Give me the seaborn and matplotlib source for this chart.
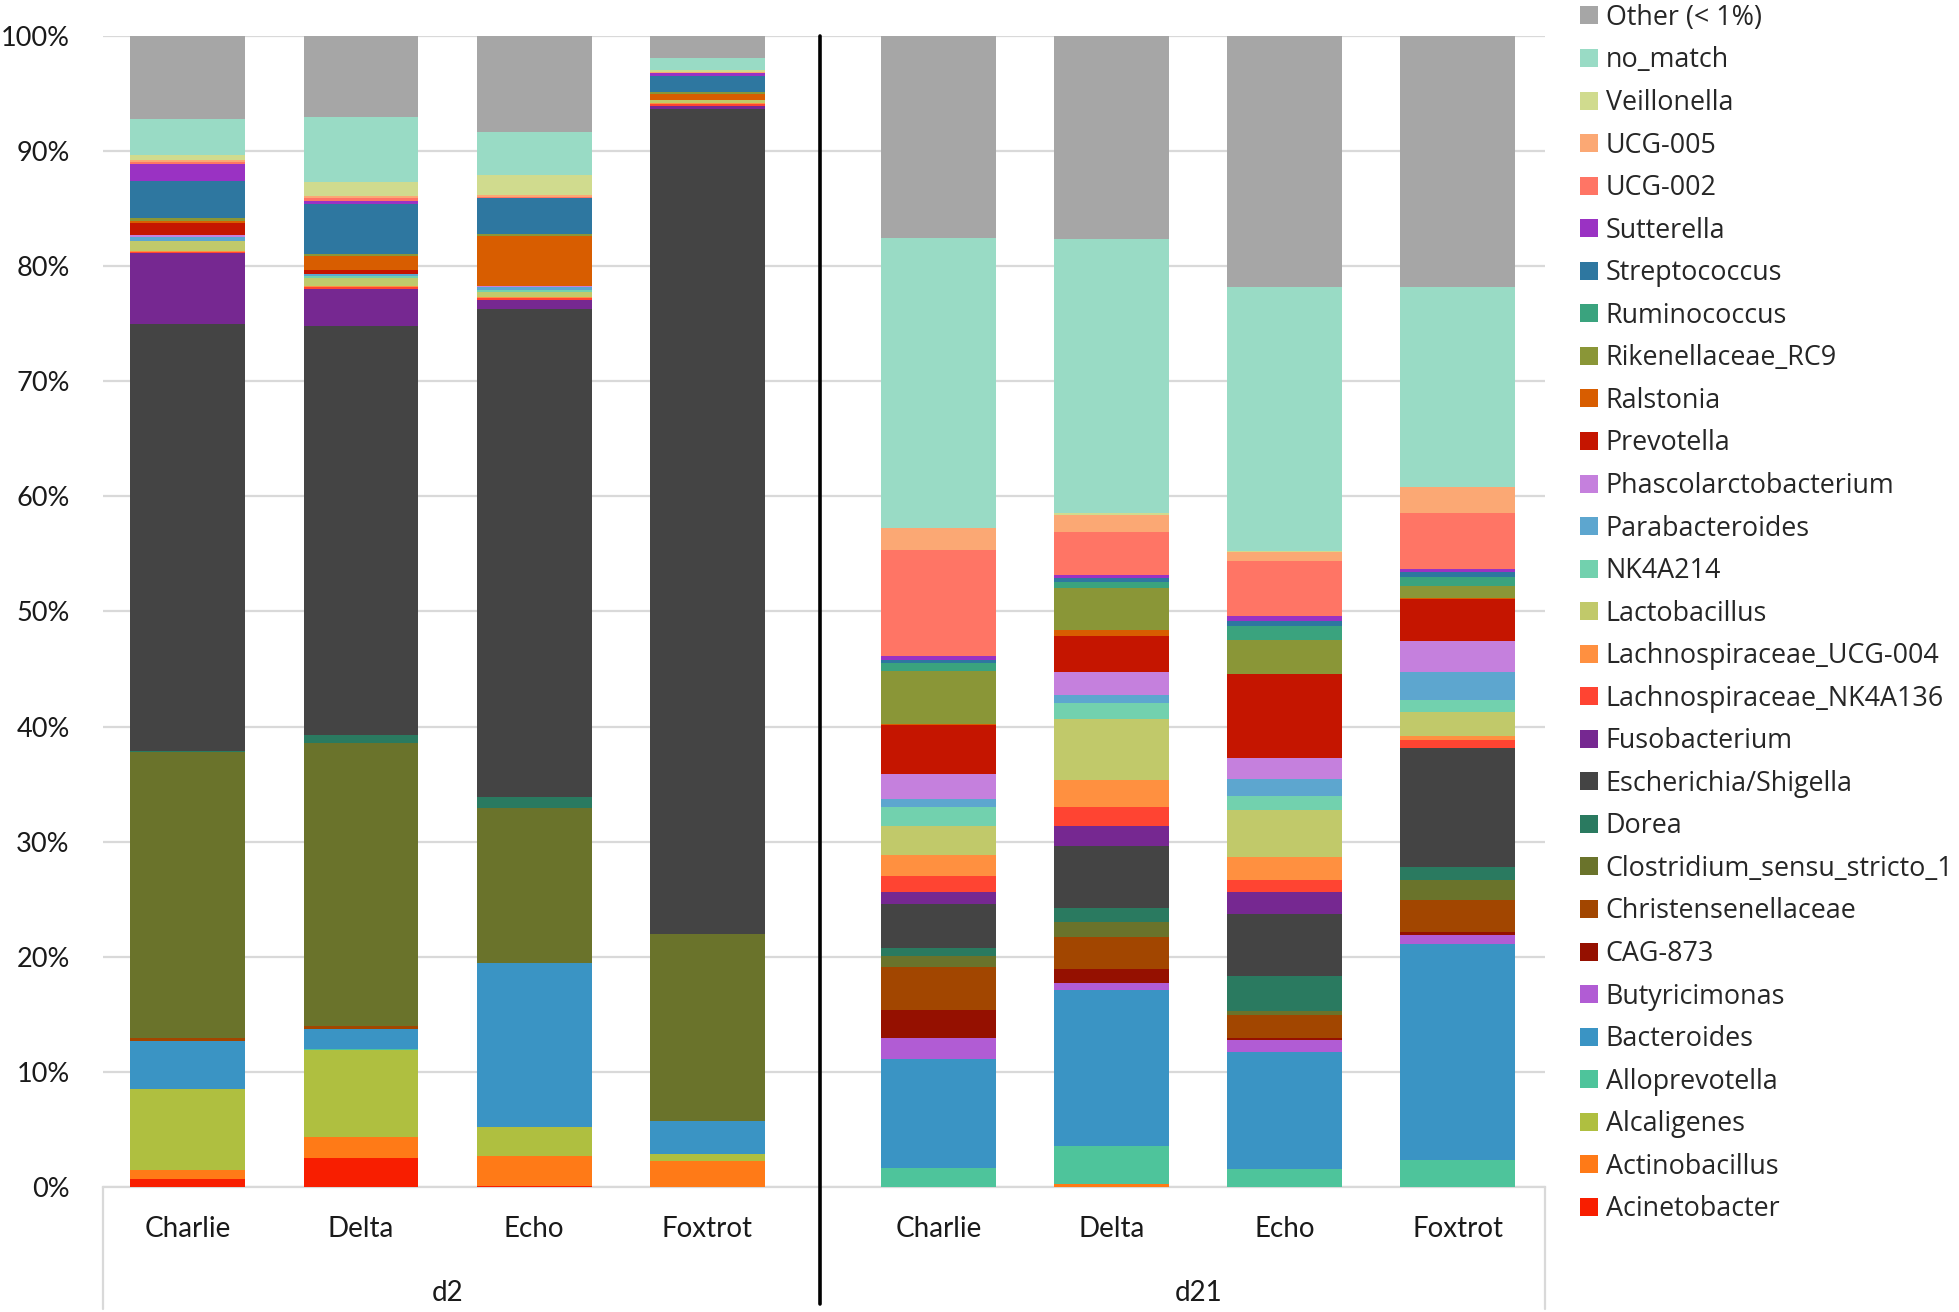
import numpy as np
import pandas as pd
import matplotlib
matplotlib.use("Agg")
import matplotlib.pyplot as plt
import matplotlib.transforms as mtransforms
from matplotlib.patches import Patch
import seaborn as sns

# ---------------- data ----------------
genera = ["Acinetobacter", "Actinobacillus", "Alcaligenes", "Alloprevotella", "Bacteroides",
          "Butyricimonas", "CAG-873", "Christensenellaceae", "Clostridium_sensu_stricto_1",
          "Dorea", "Escherichia/Shigella", "Fusobacterium", "Lachnospiraceae_NK4A136",
          "Lachnospiraceae_UCG-004", "Lactobacillus", "NK4A214", "Parabacteroides",
          "Phascolarctobacterium", "Prevotella", "Ralstonia", "Rikenellaceae_RC9",
          "Ruminococcus", "Streptococcus", "Sutterella", "UCG-002", "UCG-005",
          "Veillonella", "no_match", "Other (< 1%)"]

colors = ["#F81E00", "#FF7A17", "#AFBF40", "#4EC49B", "#3A94C4",
          "#B15CD4", "#951000", "#A24600", "#6A732B",
          "#2A7A60", "#444444", "#762891", "#FF4432",
          "#FF9040", "#C1C96A", "#72D1AE", "#5DA6CF",
          "#C580DD", "#C51500", "#D85D00", "#8A9637",
          "#3AA37E", "#2E77A0", "#9A32C3", "#FF7565", "#FBA874",
          "#D0DB8E", "#99DBC5", "#A6A6A6"]

samples = ["Charlie", "Delta", "Echo", "Foxtrot"]
groups = ["d2", "d21"]

d2_charlie = [0.73, 0.77, 7.0, 0, 4.2, 0, 0, 0.2, 24.85, 0.15, 37.1, 6.1, 0.15, 0.05, 0.9, 0,
              0.3, 0.2, 1.05, 0.2, 0.2, 0, 3.25, 1.45, 0.2, 0.15, 0.5, 3.05, 7.25]
d2_delta = [2.5, 1.8, 7.6, 0.1, 1.7, 0, 0, 0.3, 24.6, 0.7, 35.5, 3.2, 0.15, 0.15, 0.65, 0.2,
            0.15, 0, 0.4, 1.15, 0.2, 0, 4.35, 0.3, 0.2, 0.2, 1.2, 5.7, 7.0]
d2_echo = [0.1, 2.6, 2.5, 0, 14.3, 0, 0, 0, 13.4, 1.0, 42.4, 0.8, 0.15, 0.1, 0.4, 0.2,
           0.2, 0.15, 0, 4.35, 0.1, 0, 3.2, 0, 0.1, 0.1, 1.75, 3.75, 8.35]
d2_foxtrot = [0, 2.25, 0.65, 0, 2.8, 0, 0, 0, 16.25, 0, 71.7, 0.3, 0.1, 0.1, 0.3, 0,
              0, 0, 0, 0.5, 0.15, 0, 1.45, 0.2, 0, 0.1, 0.2, 1.0, 1.95]
d21_charlie = [0, 0, 0, 1.65, 9.45, 1.8, 2.45, 3.75, 1.0, 0.7, 3.8, 1.0, 1.45, 1.8, 2.55, 1.6,
               0.7, 2.2, 4.2, 0.1, 4.6, 0.7, 0.3, 0.3, 9.25, 1.9, 0, 25.2, 17.55]
d21_delta = [0, 0.25, 0, 3.35, 13.5, 0.6, 1.2, 2.85, 1.25, 1.2, 5.45, 1.7, 1.7, 2.35, 5.25, 1.4,
             0.7, 1.95, 3.2, 0.5, 3.6, 0.6, 0.3, 0.3, 3.7, 1.5, 0.15, 23.8, 17.65]
d21_echo = [0, 0, 0, 1.6, 10.1, 1.05, 0.15, 2.05, 0.3, 3.1, 5.4, 1.9, 1.05, 2.0, 4.05, 1.2,
            1.5, 1.85, 7.25, 0, 3.0, 1.15, 0.5, 0.4, 4.75, 0.8, 0.1, 22.9, 21.85]
d21_foxtrot = [0, 0, 0, 2.35, 18.75, 0.8, 0.25, 2.75, 1.75, 1.15, 10.35, 0, 0.7, 0.3, 2.15, 1.05,
               2.35, 2.75, 3.6, 0.1, 1.1, 0.75, 0.4, 0.3, 4.85, 2.3, 0, 17.3, 21.85]

bars = [d2_charlie, d2_delta, d2_echo, d2_foxtrot,
        d21_charlie, d21_delta, d21_echo, d21_foxtrot]

df = pd.DataFrame(np.array(bars).T, index=genera)

# ---------------- style ----------------
sns.set_theme(style="white")
plt.rcParams["font.family"] = ["Lato", "DejaVu Sans"]

fig = plt.figure(figsize=(19.59, 13.12), dpi=100)
ax = fig.add_axes([0.0526, 0.0953, 0.7361, 0.8773])

xpos = [0, 1, 2, 3, 4.336, 5.336, 6.336, 7.336]
width = 0.664

bottom = np.zeros(len(xpos))
for i, g in enumerate(genera):
    vals = df.loc[g].values
    ax.bar(xpos, vals, width=width, bottom=bottom, color=colors[i], linewidth=0, zorder=3)
    bottom += vals

ax.set_xlim(-0.49, 7.84)
ax.set_ylim(0, 100)
ax.set_yticks(np.arange(0, 101, 10))
ax.set_yticklabels([f"{v}%" for v in range(0, 101, 10)], fontsize=19.5, color="#1a1a1a")
ax.yaxis.grid(True, color="#D9D9D9", linewidth=1.6, zorder=0)
ax.xaxis.grid(False)
ax.tick_params(axis="y", length=0, pad=24)
ax.set_xticks(xpos)
ax.set_xticklabels(samples * 2, fontsize=20, color="#1a1a1a")
ax.tick_params(axis="x", length=0, pad=21)
for s in ["top", "right", "left"]:
    ax.spines[s].set_visible(False)
ax.spines["bottom"].set_color("#D9D9D9")
ax.spines["bottom"].set_linewidth(1.6)

trans = mtransforms.blended_transform_factory(ax.transData, ax.transAxes)
# group labels
ax.text(np.mean(xpos[:4]), -0.092, groups[0], transform=trans, ha="center", va="center",
        fontsize=20, color="#1a1a1a")
ax.text(np.mean(xpos[4:]), -0.092, groups[1], transform=trans, ha="center", va="center",
        fontsize=20, color="#1a1a1a")
# category-axis box lines
ax.plot([-0.49, -0.49], [0, -0.106], transform=trans, color="#D9D9D9", lw=1.6, clip_on=False)
ax.plot([7.84, 7.84], [0, -0.106], transform=trans, color="#D9D9D9", lw=1.6, clip_on=False)
ax.plot([3.653, 3.653], [1.0, -0.102], transform=trans, color="black", lw=2.6, clip_on=False,
        zorder=5)

# legend (top = Other)
handles = [Patch(facecolor=colors[i], edgecolor="none") for i in range(len(genera))][::-1]
labels = genera[::-1]
leg = fig.legend(handles, labels, loc="upper left", bbox_to_anchor=(1580 / 1959, 0.997),
                 frameon=False, handlelength=0.65, handleheight=0.65,
                 handletextpad=0.3, labelspacing=0.54, borderpad=0, borderaxespad=0.0,
                 prop={"family": ["Open Sans", "DejaVu Sans"], "size": 19.4})

fig.savefig("out.png", dpi=100, facecolor="white")
